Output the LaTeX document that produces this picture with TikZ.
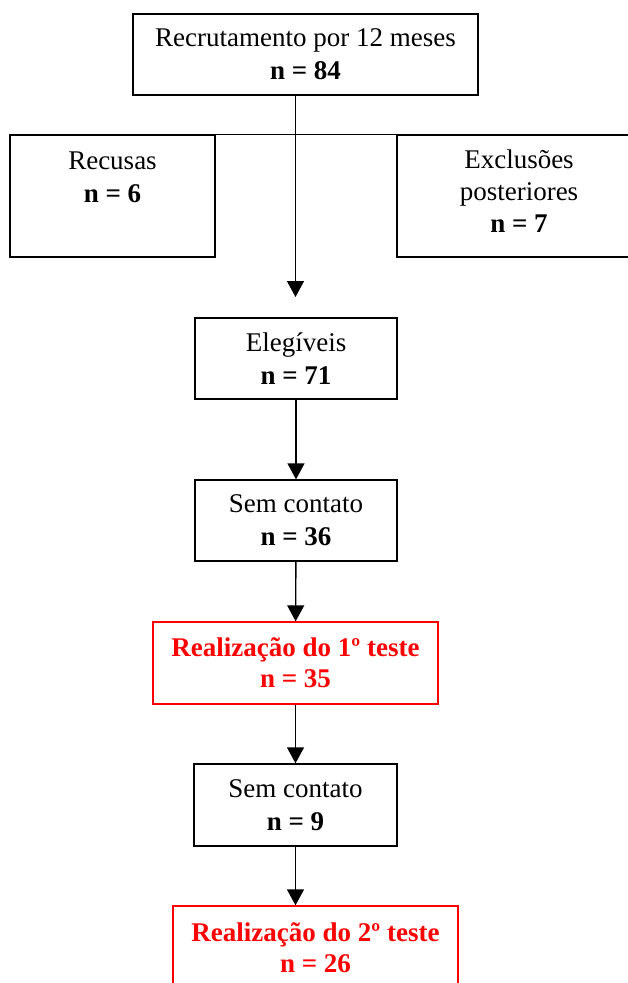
\documentclass[tikz,border=0pt]{standalone}
\usepackage{fontspec}
\setmainfont{Liberation Serif}
\usetikzlibrary{arrows.meta}
\begin{document}
\begin{tikzpicture}[x=1pt,y=-1pt,
 box/.style={draw, line width=1.4pt, align=center, inner sep=0pt, font=\fontsize{27}{33}\selectfont},
 redbox/.style={box, draw=red, text=red, font=\fontsize{27}{31}\selectfont\bfseries},
 arr/.style={line width=1.4pt, -{Triangle[width=17pt,length=16pt]}},
 line/.style={line width=1.4pt}
]
\useasboundingbox (0,0) rectangle (627,983);
\node[box, minimum width=345pt, minimum height=81pt] (top) at (305.5,54.5) {Recrutamento por 12 meses\\\textbf{n = 84}};
\node[box, minimum width=205pt, minimum height=122pt, text depth=4pt] (rec) at (112.5,196) {Recusas\\\textbf{n = 6}\\\mbox{}};
\node[box, minimum width=244pt, minimum height=122pt, text depth=10pt, font=\fontsize{27}{32}\selectfont] (exc) at (519,196) {Exclusões\\posteriores\\\textbf{n = 7}};
\node[box, minimum width=202pt, minimum height=81pt] (eleg) at (296,358.5) {Elegíveis\\\textbf{n = 71}};
\node[box, minimum width=202pt, minimum height=81pt] (sem1) at (296,520.5) {Sem contato\\\textbf{n = 36}};
\node[redbox, minimum width=285pt, minimum height=82pt] (t1) at (295.5,663) {Realização do 1º teste\\n = 35};
\node[box, minimum width=203pt, minimum height=82pt] (sem2) at (295.5,805) {Sem contato\\\textbf{n = 9}};
\node[redbox, minimum width=285pt, minimum height=84pt] (t2) at (315.5,948) {Realização do 2º teste\\n = 26};
\coordinate (a1) at (295.5,297);
\draw[line] (rec.north east) -- (exc.north west);
\draw[arr] (top.south -| a1) -- (a1);
\draw[arr] (eleg) -- (sem1);
\draw[arr] (sem1) -- (t1);
\draw[arr] (t1) -- (sem2);
\draw[arr] (sem2.south) -- (t2.north -| sem2.south);
\end{tikzpicture}
\end{document}
